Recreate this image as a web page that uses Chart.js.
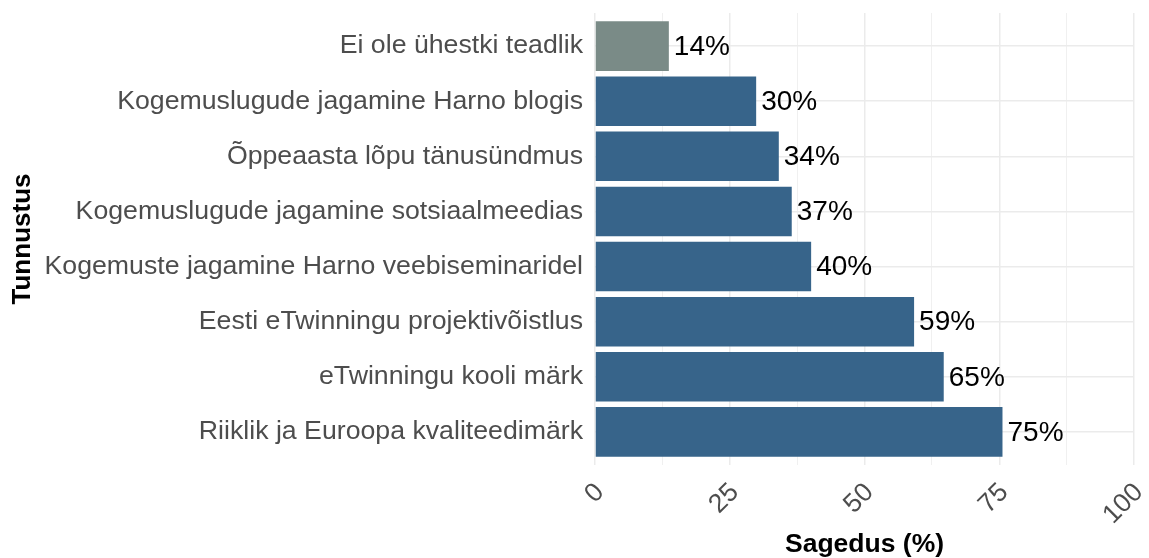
<!DOCTYPE html>
<html>
<head>
<meta charset="utf-8">
<script src="https://cdn.jsdelivr.net/npm/chart.js@4"></script>
<style>
  html, body { margin: 0; padding: 0; background: #ffffff; }
  #wrap { width: 1149px; height: 558px; }
</style>
</head>
<body>
<div id="wrap"><canvas id="c" width="1149" height="558"></canvas></div>
<script>
const categories = [
  "Ei ole ühestki teadlik",
  "Kogemuslugude jagamine Harno blogis",
  "Õppeaasta lõpu tänusündmus",
  "Kogemuslugude jagamine sotsiaalmeedias",
  "Kogemuste jagamine Harno veebiseminaridel",
  "Eesti eTwinningu projektivõistlus",
  "eTwinningu kooli märk",
  "Riiklik ja Euroopa kvaliteedimärk"
];
const values = [13.7, 29.9, 34.1, 36.5, 40.1, 59.2, 64.7, 75.6];
const valueLabels = ["14%", "30%", "34%", "37%", "40%", "59%", "65%", "75%"];
const barColors = ["#7a8b87", "#37648a", "#37648a", "#37648a", "#37648a", "#37648a", "#37648a", "#37648a"];
const xTickLabels = [0, 25, 50, 75, 100];
const xTitle = "Sagedus (%)";
const yTitle = "Tunnustus";

const FONT = "'Liberation Sans', Arial, Helvetica, sans-serif";
const GRID = "#ebebeb";

const valueLabelPlugin = {
  id: 'valueLabels',
  afterDatasetsDraw(chart) {
    const ctx = chart.ctx;
    const meta = chart.getDatasetMeta(0);
    ctx.save();
    ctx.font = "28px " + FONT;
    ctx.fillStyle = "#000000";
    ctx.textAlign = "left";
    ctx.textBaseline = "middle";
    meta.data.forEach((bar, i) => {
      ctx.fillText(valueLabels[i], bar.x + 5, bar.y + 1);
    });
    ctx.restore();
  }
};

new Chart(document.getElementById('c'), {
  type: 'bar',
  data: {
    datasets: [{
      data: values.map((v, i) => ({ x: v, y: i })),
      backgroundColor: barColors,
      borderWidth: 0,
      barPercentage: 0.9,
      categoryPercentage: 1.0
    }]
  },
  options: {
    indexAxis: 'y',
    responsive: false,
    animation: false,
    devicePixelRatio: 1,
    layout: { padding: { top: 13, right: 15, left: 0, bottom: 0 } },
    plugins: {
      legend: { display: false },
      tooltip: { enabled: false }
    },
    scales: {
      x: {
        type: 'linear',
        min: 0,
        max: 100,
        border: { display: false },
        grid: {
          color: GRID,
          drawTicks: false,
          lineWidth: (c) => (c.tick && c.tick.value % 25 === 0) ? 1.5 : 0.75
        },
        ticks: {
          stepSize: 12.5,
          autoSkip: false,
          minRotation: 45,
          maxRotation: 45,
          padding: 12,
          labelOffset: 5,
          color: "#4d4d4d",
          font: { family: FONT, size: 26.5 },
          callback: (v) => xTickLabels.includes(v) ? String(v) : ''
        },
        title: {
          display: true,
          text: xTitle,
          color: "#000000",
          font: { family: FONT, size: 26.5, weight: 'bold' },
          padding: { top: 0, bottom: -3 }
        },
        afterFit: (scale) => {
          scale.height = 93;
          scale.paddingLeft = 0;
          scale.paddingRight = 0;
        }
      },
      y: {
        type: 'linear',
        reverse: true,
        min: -0.6,
        max: 7.6,
        offset: false,
        border: { display: false },
        grid: {
          color: GRID,
          drawTicks: false,
          offset: false,
          lineWidth: 1.5
        },
        ticks: {
          stepSize: 1,
          includeBounds: false,
          autoSkip: false,
          padding: 12,
          color: "#4d4d4d",
          font: { family: FONT, size: 26.7 },
          callback: (v) => categories[v] !== undefined ? categories[v] : ''
        },
        afterBuildTicks: (scale) => {
          scale.ticks = scale.ticks.filter(t => Number.isInteger(t.value) && t.value >= 0 && t.value < categories.length);
        },
        title: {
          display: true,
          text: yTitle,
          color: "#000000",
          font: { family: FONT, size: 26, weight: 'bold' },
          padding: { top: 7, bottom: 0 }
        },
        afterFit: (scale) => {
          scale.width = 595;
          scale.paddingTop = 0;
          scale.paddingBottom = 0;
        }
      }
    }
  },
  plugins: [valueLabelPlugin]
});
</script>
</body>
</html>
